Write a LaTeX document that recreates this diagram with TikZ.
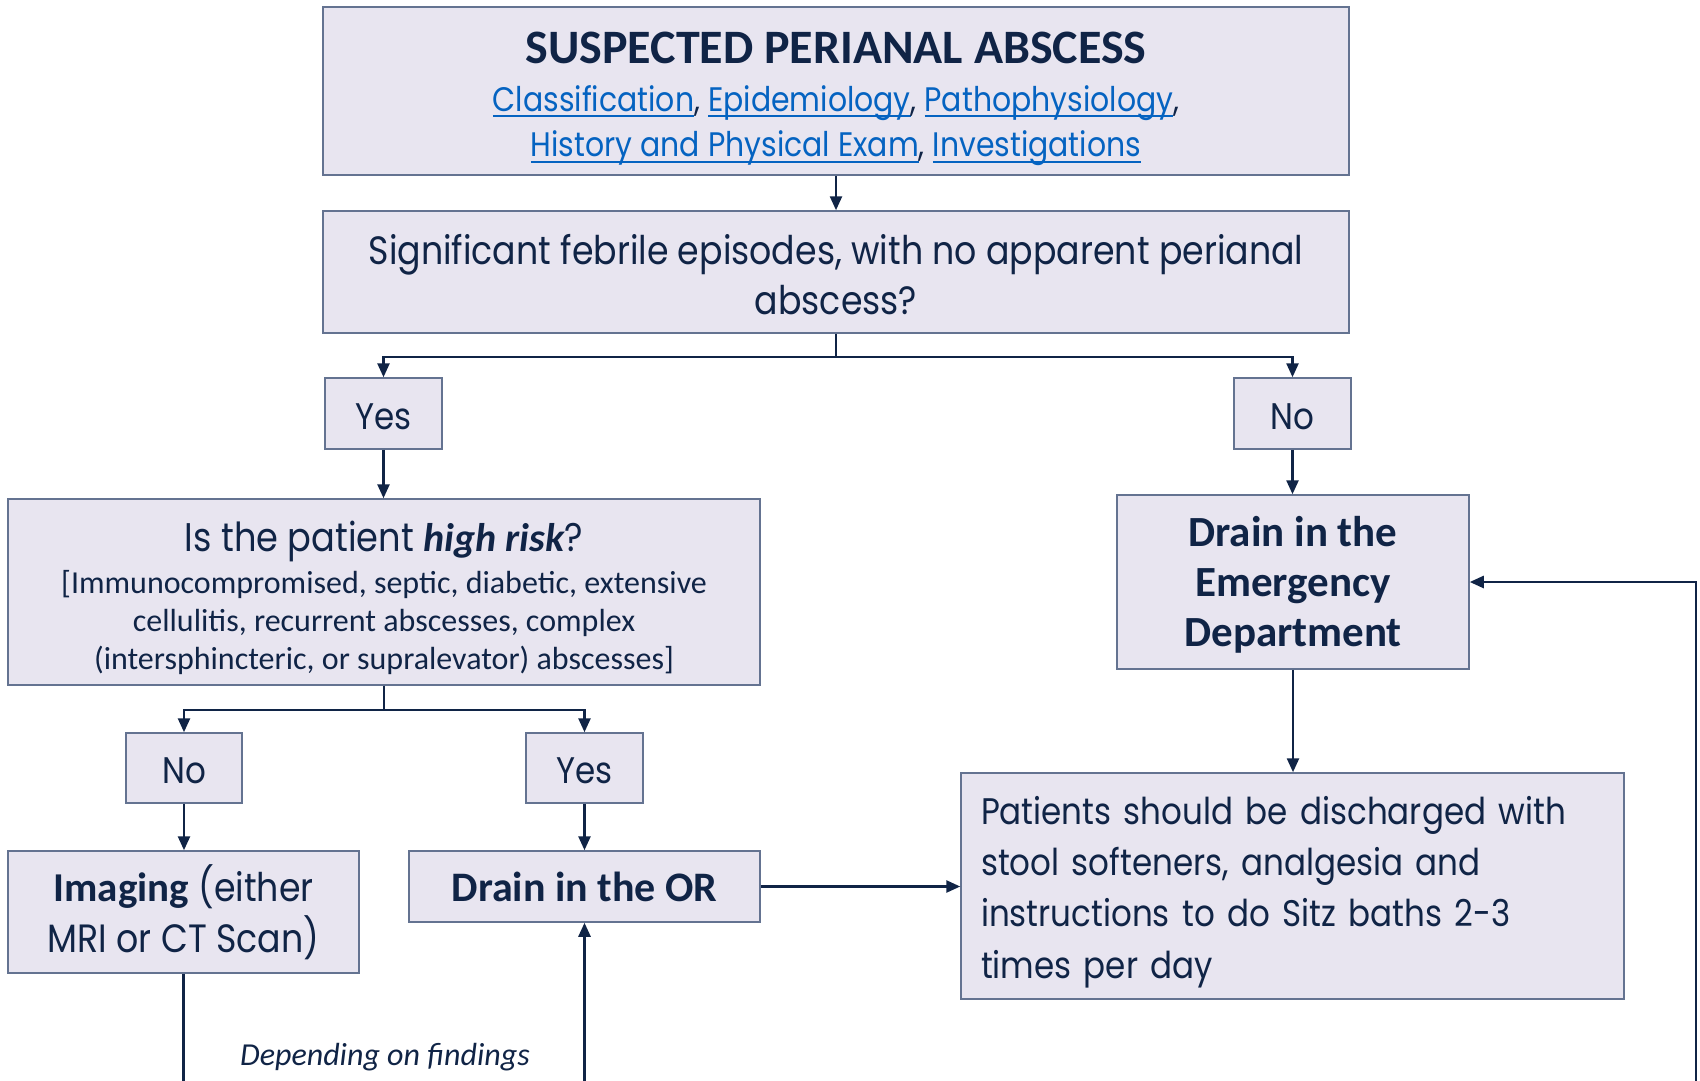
\documentclass[tikz,border=0pt]{standalone}
\usepackage{fontspec}
\setmainfont{Poppins}[FakeStretch=0.88]
\newfontfamily\calfont{Carlito}
\usetikzlibrary{arrows.meta}
\definecolor{navy}{RGB}{16,36,70}
\definecolor{boxborder}{RGB}{100,115,145}
\definecolor{boxfill}{RGB}{232,229,240}
\definecolor{linkblue}{RGB}{5,99,193}
\newcommand\lnk[1]{{\color{linkblue}\setbox0=\hbox{#1}\rlap{\rule[-6pt]{\wd0}{2pt}}\box0}}
\newcommand\lift[1]{\rule{0pt}{#1}}
\tikzset{
  fbox/.style={draw=boxborder, fill=boxfill, line width=1.5pt, inner sep=0pt,
    align=center, text=navy, font=\fontsize{37}{50}\selectfont},
  arr/.style={draw=navy, line width=2.5pt, -{Triangle[length=14pt,width=12pt]}},
  ln/.style={draw=navy, line width=2.5pt},
}
\begin{document}
\begin{tikzpicture}[x=1pt,y=-1pt]
\useasboundingbox[fill=white] (0,0) rectangle (1700,1081);

\node[fbox, minimum width=1026, minimum height=168, font=\fontsize{34}{45.5}\selectfont] (top) at (836,91)
  {\lift{48pt}{\calfont\bfseries\fontsize{48}{56}\selectfont SUSPECTED PERIANAL ABSCESS}\\[2pt]
   \lnk{Classification}, \lnk{Epidemiology}, \lnk{Pathophysiology},\\
   \lnk{History and Physical Exam}, \lnk{Investigations}};

\node[fbox, minimum width=1026, minimum height=122, font=\fontsize{39.5}{50}\selectfont] (q1) at (836,272)
  {\lift{36pt}Significant febrile episodes, with no apparent perianal\\abscess?};

\node[fbox, minimum width=117, minimum height=71] (yes1) at (383.5,413.5) {\lift{32pt}Yes};
\node[fbox, minimum width=117, minimum height=71] (no1) at (1292.5,413.5) {\lift{32pt}No};

\node[fbox, minimum width=752, minimum height=186, font=\fontsize{40}{50}\selectfont] (hr) at (384,592)
  {\lift{48pt}Is the patient {\calfont\bfseries\itshape high risk}?\\[4pt]
   {\calfont\fontsize{32}{38}\selectfont\begin{tabular}{@{}c@{}}[Immunocompromised, septic, diabetic, extensive\\
   cellulitis, recurrent abscesses, complex\\
   (intersphincteric, or supralevator) abscesses]\end{tabular}}};

\node[fbox, minimum width=352, minimum height=174, font=\calfont\bfseries\fontsize{43}{50}\selectfont] (ed) at (1293,582)
  {\lift{36pt}Drain in the\\Emergency\\Department};

\node[fbox, minimum width=116, minimum height=70] (no2) at (184,768) {\lift{32pt}No};
\node[fbox, minimum width=117, minimum height=70] (yes2) at (584.5,768) {\lift{32pt}Yes};

\node[fbox, minimum width=351, minimum height=122, font=\fontsize{39.5}{51}\selectfont] (img) at (183.5,912)
  {{\calfont\bfseries\fontsize{41}{51}\selectfont Imaging} (either\\MRI or CT Scan)};

\node[fbox, minimum width=351, minimum height=71, font=\calfont\bfseries\fontsize{42}{50}\selectfont] (or) at (584.5,886.5)
  {Drain in the OR};

\node[fbox, minimum width=663, minimum height=226, align=left, text width=623, inner xsep=20pt,
  font=\fontsize{37}{51.3}\selectfont] (pat) at (1292.5,886)
  {\lift{40pt}Patients should be discharged with\\stool softeners, analgesia and\\instructions to do Sitz baths 2-3\\times per day};

\node[text=navy, font=\calfont\itshape\fontsize{32}{38}\selectfont, inner sep=0pt] (dep) at (385,1057) {Depending on findings};

\coordinate (imgend) at (183.5,1081);
\coordinate (orstart) at (584.5,1081);
\coordinate (loopstart) at (1696,1081);

\draw[arr] (top.south) -- (q1.north);
\draw[arr] (q1.south) -- ++(0,23) -| (yes1.north);
\draw[arr] (q1.south) -- ++(0,23) -| (no1.north);
\draw[arr] (yes1.south) -- (yes1.south |- hr.north);
\draw[arr] (no1.south) -- (no1.south |- ed.north);
\draw[arr] (hr.south) -- ++(0,24) -| (no2.north);
\draw[arr] (hr.south) -- ++(0,24) -| (yes2.north);
\draw[arr] (no2.south) -- (no2.south |- img.north);
\draw[arr] (yes2.south) -- (or.north);
\draw[arr] (ed.south) -- (ed.south |- pat.north);
\draw[arr] (or.east) -- (or.east -| pat.west);
\draw[ln] (img.south) -- (imgend);
\draw[arr] (orstart) -- (or.south);
\draw[arr] (loopstart) |- (ed.east);
\end{tikzpicture}
\end{document}
